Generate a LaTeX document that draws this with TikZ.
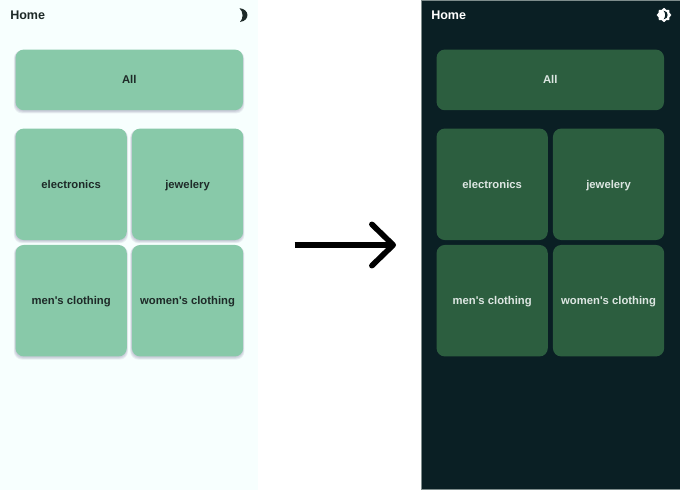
\documentclass[tikz,border=0pt]{standalone}
\usepackage{fontspec}
\setmainfont[Ligatures=TeXOff]{Liberation Sans}
\usetikzlibrary{arrows.meta}
\definecolor{paleBg}{HTML}{F7FFFE}
\definecolor{darkBg}{HTML}{0A1F24}
\definecolor{darkEdge}{HTML}{7E8C8C}
\definecolor{mint}{HTML}{88C9A9}
\definecolor{forest}{HTML}{2C5E3F}
\definecolor{inkDark}{HTML}{1E2A28}
\definecolor{inkLight}{HTML}{DDE6E2}
\definecolor{shade}{HTML}{6E6A90}
\tikzset{
  x=0.75pt,y=-0.75pt,
  basecard/.style={rounded corners=6.2pt,inner sep=0pt,anchor=north west,text height=7.5pt,text depth=1.7pt,font=\fontsize{8.45pt}{10pt}\selectfont\bfseries},
  lightcard/.style={basecard,fill=mint,text=inkDark},
  darkcard/.style={basecard,fill=forest,text=inkLight},
  widecard/.style={minimum width=170.6pt,minimum height=45.5pt},
  squarecard/.style={minimum width=83.4pt,minimum height=83.6pt},
  softshadow/.style={fill=shade,rounded corners=6.2pt,opacity=.10},
  apptitle/.style={anchor=west,inner sep=0pt,font=\fontsize{9.4pt}{10pt}\selectfont\bfseries},
}
\newcommand{\cardshadow}[4]{%
  \foreach \g in {0,1,2,3}{
    \fill[softshadow] ({#1-\g*0.5},{#2+1}) rectangle ({#3+\g*0.5},{#4+1+\g*0.8});
  }}
\begin{document}
\begin{tikzpicture}
\useasboundingbox (0,0) rectangle (680,493);
\fill[white] (0,0) rectangle (680,493);
% light panel
\fill[paleBg] (0,0) rectangle (258,490);
\node[apptitle,text=inkDark] (homeL) at (10,15.5) {Home};
\fill[inkDark] (239.5,8.2) .. controls (249.5,9) and (250.5,20.5) .. (240,22)
  .. controls (243.5,18.5) and (243.5,12) .. (239.5,8.2) -- cycle;
\cardshadow{15.3}{49.3}{242.8}{110}
\cardshadow{15.3}{128.3}{126.5}{239.8}
\cardshadow{131.7}{128.3}{242.9}{239.8}
\cardshadow{15.3}{244.7}{126.5}{356.2}
\cardshadow{131.7}{244.7}{242.9}{356.2}
\node[lightcard,widecard] (allL) at (15.3,49.3) {All};
\node[lightcard,squarecard] (elecL) at (15.3,128.3) {electronics};
\node[lightcard,squarecard] (jewL) at (131.7,128.3) {jewelery};
\node[lightcard,squarecard] (menL) at (15.3,244.7) {men's clothing};
\node[lightcard,squarecard] (womL) at (131.7,244.7) {women's clothing};
% dark panel
\fill[darkBg,draw=darkEdge,line width=0.6pt] (421.8,0.4) rectangle (681,489.6);
\node[apptitle,text=white] (homeD) at (431,15.5) {Home};
\fill[white] (664,7.8) -- (666.2,9.8) -- (669.2,9.8) -- (669.4,12.8) -- (671.4,15) -- (669.4,17.2) -- (669.2,20.2)
  -- (666.2,20.2) -- (664,22.2) -- (661.8,20.2) -- (658.8,20.2) -- (658.6,17.2) -- (656.6,15) -- (658.6,12.8) -- (658.8,9.8) -- (661.8,9.8) -- cycle;
\fill[darkBg] (663.5,10.6) .. controls (669,11) and (669,19) .. (663.5,19.4) .. controls (665.8,16.5) and (665.8,13.5) .. (663.5,10.6) -- cycle;
\node[darkcard,widecard] (allD) at (436.3,49.3) {All};
\node[darkcard,squarecard] (elecD) at (436.3,128.3) {electronics};
\node[darkcard,squarecard] (jewD) at (552.7,128.3) {jewelery};
\node[darkcard,squarecard] (menD) at (436.3,244.7) {men's clothing};
\node[darkcard,squarecard] (womD) at (552.7,244.7) {women's clothing};
% arrow
\coordinate (arrowStart) at (294.5,245);
\coordinate (arrowEnd) at (396,245);
\draw[line width=4.2pt,black,-{Straight Barb[length=16pt,width=31pt,round,line width=4.2pt]}] (arrowStart) -- (arrowEnd);
\end{tikzpicture}
\end{document}
